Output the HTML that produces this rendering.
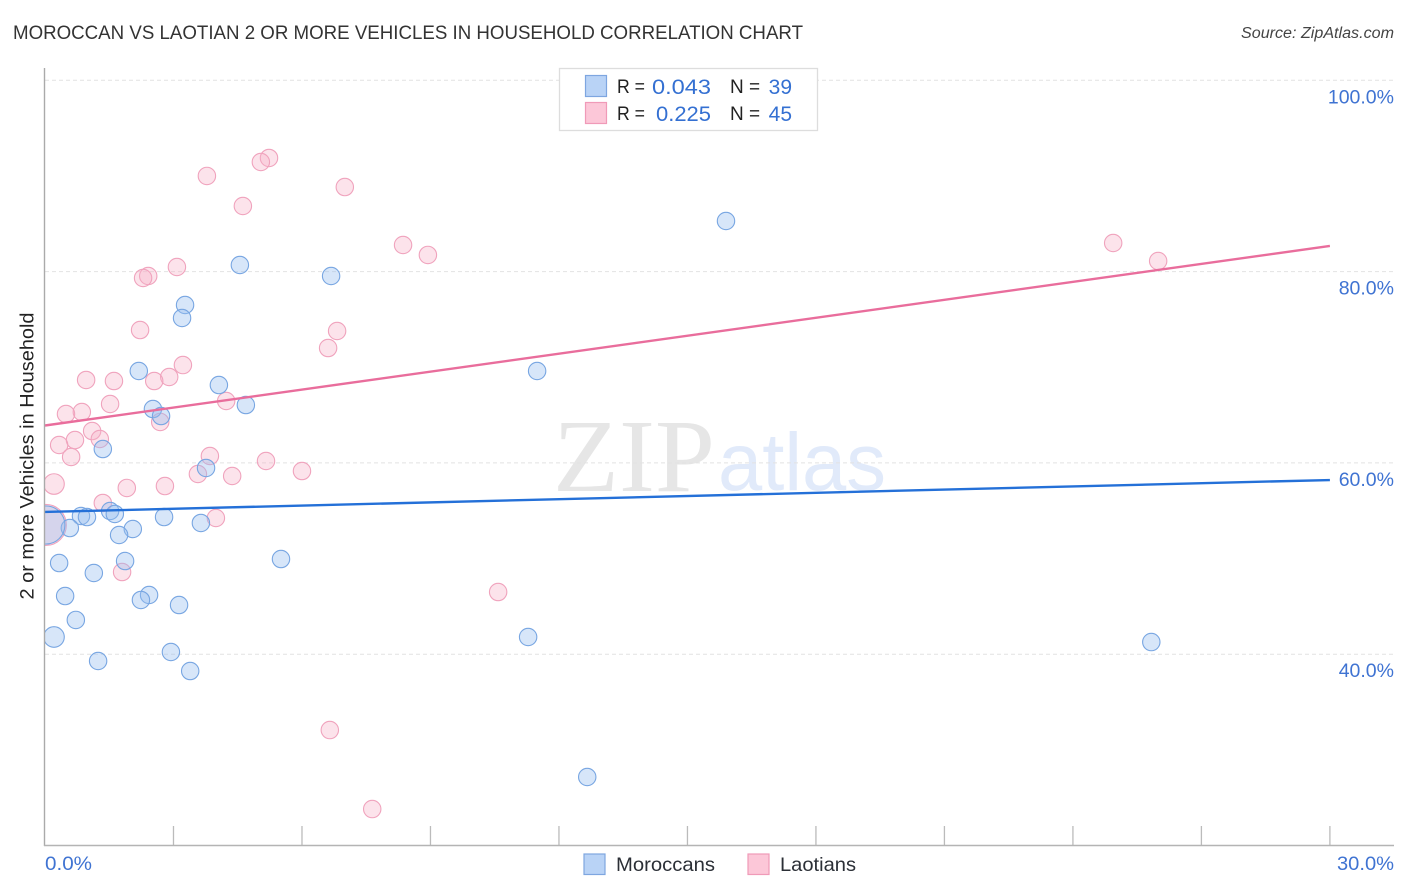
<!DOCTYPE html>
<html lang="en">
<head>
<meta charset="utf-8">
<title>Moroccan vs Laotian 2 or more Vehicles in Household Correlation Chart</title>
<style>
html,body{margin:0;padding:0;background:#fff;width:1406px;height:892px;overflow:hidden}
svg{display:block}
text{font-family:"Liberation Sans",sans-serif}
</style>
</head>
<body>
<svg id="chart" xmlns="http://www.w3.org/2000/svg" width="1406" height="892" viewBox="0 0 1406 892">
  <defs><clipPath id="plot-clip"><rect x="45" y="60" width="1349" height="785"/></clipPath></defs>
  <text x="13" y="39" font-size="19.5" fill="#333" textLength="790" lengthAdjust="spacingAndGlyphs">MOROCCAN VS LAOTIAN 2 OR MORE VEHICLES IN HOUSEHOLD CORRELATION CHART</text>
  <text x="1394" y="38" font-size="15.5" font-style="italic" fill="#444" text-anchor="end" textLength="153" lengthAdjust="spacingAndGlyphs">Source: ZipAtlas.com</text>
  <g>
    <text x="553" y="491" font-size="104" fill="#e6e6e6" style="font-family:'Liberation Serif',serif" textLength="162" lengthAdjust="spacingAndGlyphs">ZIP</text>
    <text x="718" y="490" font-size="82" fill="#e1eafa" textLength="168" lengthAdjust="spacingAndGlyphs">atlas</text>
  </g>
  <g id="grid"></g>
  <g id="y-labels"></g>
  <g id="x-ticks"></g>
  <g id="points" clip-path="url(#plot-clip)"></g>
  <g id="trends"></g>
  <line x1="44.5" y1="68" x2="44.5" y2="846" stroke="#aaa" stroke-width="1.4"/>
  <line x1="44" y1="845.5" x2="1394" y2="845.5" stroke="#b4b4b4" stroke-width="1.4"/>
  <text transform="translate(33.5,456) rotate(-90)" font-size="19" fill="#222" text-anchor="middle" textLength="287" lengthAdjust="spacingAndGlyphs">2 or more Vehicles in Household</text>
  <text x="45" y="870" font-size="19.5" fill="#3f73d2" textLength="47" lengthAdjust="spacingAndGlyphs">0.0%</text>
  <text x="1337" y="870" font-size="19.5" fill="#3f73d2" textLength="57" lengthAdjust="spacingAndGlyphs">30.0%</text>
  <g>
    <rect x="559.5" y="68.5" width="258" height="62" fill="#fff" stroke="#ddd" stroke-width="1.3"/>
    <rect x="585.5" y="75.5" width="21" height="21" fill="#b9d3f6" stroke="#7ea6e0" stroke-width="1.2"/>
    <rect x="585.5" y="102.5" width="21" height="21" fill="#fcc7d8" stroke="#f09ab8" stroke-width="1.2"/>
    <text x="617" y="93" font-size="19" fill="#222" textLength="28" lengthAdjust="spacingAndGlyphs">R =</text>
    <text x="652" y="94" font-size="21" fill="#3470d2" textLength="59" lengthAdjust="spacingAndGlyphs">0.043</text>
    <text x="730" y="93" font-size="19" fill="#222">N =</text>
    <text x="792" y="94" font-size="21" fill="#3470d2" text-anchor="end">39</text>
    <text x="617" y="120" font-size="19" fill="#222" textLength="28" lengthAdjust="spacingAndGlyphs">R =</text>
    <text x="656" y="121" font-size="21" fill="#3470d2" textLength="55" lengthAdjust="spacingAndGlyphs">0.225</text>
    <text x="730" y="120" font-size="19" fill="#222">N =</text>
    <text x="792" y="121" font-size="21" fill="#3470d2" text-anchor="end">45</text>
  </g>
  <g>
    <rect x="584" y="854" width="21" height="20.5" fill="#b9d3f6" stroke="#7ea6e0" stroke-width="1.2"/>
    <text x="616" y="871" font-size="19.5" fill="#2b2f36" textLength="99" lengthAdjust="spacingAndGlyphs">Moroccans</text>
    <rect x="748" y="854" width="21" height="20.5" fill="#fcc7d8" stroke="#f09ab8" stroke-width="1.2"/>
    <text x="780" y="871" font-size="19.5" fill="#2b2f36" textLength="76" lengthAdjust="spacingAndGlyphs">Laotians</text>
  </g>
</svg>
<script>
const yTickValues = [100, 80, 60, 40];
const yTickLabels = ["100.0%", "80.0%", "60.0%", "40.0%"];
const xTickValues = [3, 6, 9, 12, 15, 18, 21, 24, 27, 30];

const moroccanX = [15.90,4.55,6.68,3.27,3.20,2.19,11.49,4.06,4.69,2.52,2.71,1.35,3.76,1.52,1.63,0.84,0.98,2.78,3.64,0.58,2.05,1.73,5.51,1.87,0.33,1.14,0.47,2.43,2.24,3.13,0.72,0.21,11.28,25.83,2.94,1.24,3.39,12.66,0.02];
const moroccanY = [85.29,80.69,79.54,76.51,75.15,69.61,69.61,68.14,66.05,65.63,64.90,61.45,59.47,54.97,54.66,54.45,54.34,54.34,53.72,53.19,53.09,52.46,49.95,49.74,49.53,48.49,46.08,46.19,45.67,45.14,43.58,41.80,41.80,41.27,40.23,39.29,38.24,27.16,53.51];
const moroccanWeight = [1,1,1,1,1,1,1,1,1,1,1,1,1,1,1,1,1,1,1,1,1,1,1,1,1,1,1,1,1,1,1,1.4,1,1,1,1,1,1,4.8];

const laotianX = [5.23,5.04,3.78,7.00,4.62,8.36,24.94,8.94,25.99,3.08,2.41,2.29,2.22,6.82,6.61,3.22,2.90,0.96,1.61,2.55,4.23,1.52,0.86,0.49,2.69,1.10,0.70,1.28,0.33,0.61,3.85,5.16,6.00,3.57,4.37,0.21,1.91,2.80,1.35,3.99,1.80,10.58,6.65,7.64,0.02];
const laotianY = [91.88,91.46,90.00,88.84,86.86,82.78,82.99,81.74,81.11,80.48,79.54,79.33,73.89,73.79,72.01,70.23,68.98,68.67,68.56,68.56,66.47,66.16,65.32,65.11,64.28,63.33,62.39,62.50,61.87,60.62,60.72,60.20,59.15,58.84,58.63,57.79,57.38,57.58,55.81,54.24,48.59,46.50,32.07,23.81,53.51];
const laotianWeight = [1,1,1,1,1,1,1,1,1,1,1,1,1,1,1,1,1,1,1,1,1,1,1,1,1,1,1,1,1,1,1,1,1,1,1,1.4,1,1,1,1,1,1,1,1,5.55];

const moroccanTrendX = [0, 30];
const moroccanTrendY = [54.87, 58.21];
const laotianTrendX = [0, 30];
const laotianTrendY = [63.91, 82.68];

const NS = "http://www.w3.org/2000/svg";
function xScale(v) { return 45 + v * 42.83; }
function yScale(v) { return 80.3 + (100 - v) * 9.565; }
function radius(w) { return 8.7 * Math.sqrt(w); }

const gridGroup = document.getElementById("grid");
const yLabelGroup = document.getElementById("y-labels");
yTickValues.forEach(function (v, i) {
  const g = document.createElementNS(NS, "line");
  
  
  g.setAttribute("x1", 45);
  g.setAttribute("x2", 1394);
  g.setAttribute("y1", yScale(v));
  g.setAttribute("y2", yScale(v));
  g.setAttribute("stroke", "#e2e2e2");
  g.setAttribute("stroke-width", "1");
  g.setAttribute("stroke-dasharray", "4 3");
  gridGroup.appendChild(g);
  const t = document.createElementNS(NS, "text");
  
  
  t.setAttribute("x", 1394);
  t.setAttribute("y", yScale(v) + 23);
  t.setAttribute("font-size", "19.5");
  t.setAttribute("fill", "#3f73d2");
  t.setAttribute("text-anchor", "end");
  t.textContent = yTickLabels[i];
  yLabelGroup.appendChild(t);
});

const xTickGroup = document.getElementById("x-ticks");
xTickValues.forEach(function (v) {
  const l = document.createElementNS(NS, "line");
  
  
  l.setAttribute("x1", xScale(v));
  l.setAttribute("x2", xScale(v));
  l.setAttribute("y1", 826);
  l.setAttribute("y2", 845);
  l.setAttribute("stroke", "#bbb");
  l.setAttribute("stroke-width", "1.3");
  xTickGroup.appendChild(l);
});

const pointGroup = document.getElementById("points");
function drawLaotianPoint(i) {
  const c = document.createElementNS(NS, "circle");
  
  
  c.setAttribute("cx", xScale(laotianX[i]));
  c.setAttribute("cy", yScale(laotianY[i]));
  c.setAttribute("r", radius(laotianWeight[i]));
  c.setAttribute("fill", "rgba(248,178,200,0.36)");
  c.setAttribute("stroke", "#f0a3bd");
  c.setAttribute("stroke-width", "1.1");
  pointGroup.appendChild(c);
}
function drawMoroccanPoint(i) {
  const c = document.createElementNS(NS, "circle");
  
  
  c.setAttribute("cx", xScale(moroccanX[i]));
  c.setAttribute("cy", yScale(moroccanY[i]));
  c.setAttribute("r", radius(moroccanWeight[i]));
  c.setAttribute("fill", "rgba(150,190,240,0.38)");
  c.setAttribute("stroke", "#78a6e2");
  c.setAttribute("stroke-width", "1.1");
  pointGroup.appendChild(c);
}
laotianX.forEach(function (_, i) { drawLaotianPoint(i); });
moroccanX.forEach(function (_, i) { drawMoroccanPoint(i); });

const trendGroup = document.getElementById("trends");
const pinkTrend = document.createElementNS(NS, "line");


pinkTrend.setAttribute("x1", xScale(laotianTrendX[0]));
pinkTrend.setAttribute("y1", yScale(laotianTrendY[0]));
pinkTrend.setAttribute("x2", xScale(laotianTrendX[1]));
pinkTrend.setAttribute("y2", yScale(laotianTrendY[1]));
pinkTrend.setAttribute("stroke", "#e96d9c");
pinkTrend.setAttribute("stroke-width", "2.4");
trendGroup.appendChild(pinkTrend);
const blueTrend = document.createElementNS(NS, "line");


blueTrend.setAttribute("x1", xScale(moroccanTrendX[0]));
blueTrend.setAttribute("y1", yScale(moroccanTrendY[0]));
blueTrend.setAttribute("x2", xScale(moroccanTrendX[1]));
blueTrend.setAttribute("y2", yScale(moroccanTrendY[1]));
blueTrend.setAttribute("stroke", "#2470d8");
blueTrend.setAttribute("stroke-width", "2.4");
trendGroup.appendChild(blueTrend);
</script>
</body>
</html>
